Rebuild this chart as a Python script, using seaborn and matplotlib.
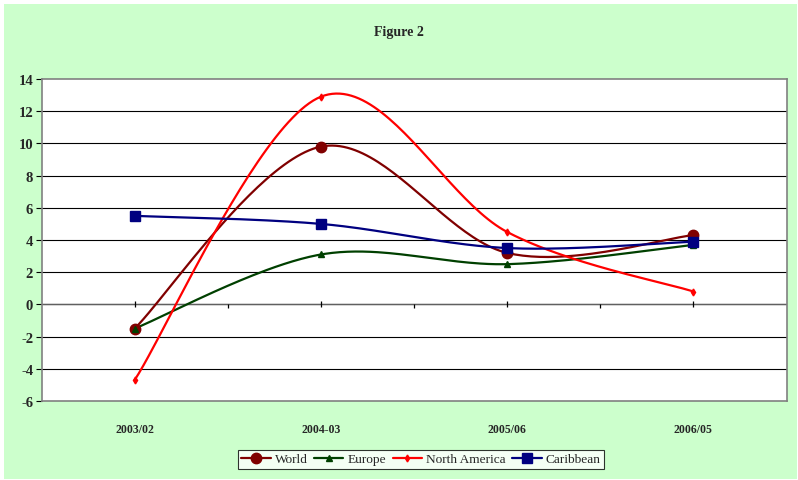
import numpy as np
import pandas as pd
import seaborn as sns
import matplotlib.pyplot as plt
from matplotlib.lines import Line2D
from matplotlib.patches import Rectangle

periods = ["2003/02", "2004-03", "2005/06", "2006/05"]
world = [-1.5, 9.8, 3.2, 4.3]
europe = [-1.5, 3.1, 2.5, 3.7]
north_america = [-4.7, 12.9, 4.5, 0.8]
caribbean = [5.5, 5.0, 3.5, 3.9]

series = {
    "World": world,
    "Europe": europe,
    "North America": north_america,
    "Caribbean": caribbean,
}
colors = {"World": "#800000", "Europe": "#004000",
          "North America": "#FF0000", "Caribbean": "#000080"}
markers = {"World": "o", "Europe": "^", "North America": "d", "Caribbean": "s"}
msizes = {"World": 7.5, "Europe": 4.5, "North America": 3.5, "Caribbean": 7.5}


def smooth(vals, n=50):
    # excel-style bezier smoothing through the points
    p = np.column_stack([np.arange(len(vals), dtype=float), np.asarray(vals, float)])
    xs, ys = [], []
    for i in range(len(p) - 1):
        p0 = p[i - 1] if i > 0 else p[i]
        p1, p2 = p[i], p[i + 1]
        p3 = p[i + 2] if i + 2 < len(p) else p[i + 1]
        c1 = p1 + (p2 - p0) / 6
        c2 = p2 - (p3 - p1) / 6
        t = np.linspace(0, 1, n)[:, None]
        b = (1 - t) ** 3 * p1 + 3 * (1 - t) ** 2 * t * c1 + 3 * (1 - t) * t ** 2 * c2 + t ** 3 * p2
        xs.extend(b[:, 0]); ys.extend(b[:, 1])
    return xs, ys


rows = []
for name, vals in series.items():
    sx, sy = smooth(vals)
    rows += [{"x": a, "y": b, "series": name} for a, b in zip(sx, sy)]
curves = pd.DataFrame(rows)
points = pd.DataFrame([{"x": i, "y": v, "series": name}
                       for name, vals in series.items() for i, v in enumerate(vals)])

sns.set_style("white")
plt.rcParams["font.family"] = ["Liberation Serif", "DejaVu Serif"]
plt.rcParams["axes.unicode_minus"] = False

fig = plt.figure(figsize=(7.98, 4.81), dpi=100, facecolor="white")
fig.patches.append(Rectangle((4 / 798, 1 / 481), 793 / 798, 475 / 481,
                             transform=fig.transFigure, facecolor="#CCFFCC",
                             edgecolor="none", zorder=-10))
ax = fig.add_axes([41.5 / 798, 1 - 402 / 481, 745 / 798, 322 / 481])
ax.set_facecolor("white")

for name in series:
    sns.lineplot(data=curves[curves.series == name], x="x", y="y", ax=ax,
                 color=colors[name], lw=1.6, sort=False, estimator=None, zorder=3)
    pts = points[points.series == name]
    ax.plot(pts.x, pts.y, ls="none", marker=markers[name], ms=msizes[name],
            color=colors[name], mec=colors[name], zorder=4)

ax.set_xlim(-0.5, 3.5)
ax.set_ylim(-6, 14)
ax.set_yticks(range(-6, 15, 2))
ax.set_xticks(range(len(periods)))
ax.set_xticklabels(periods)
for y in range(-4, 14, 2):
    ax.axhline(y, color="black", lw=0.8, zorder=1)
ax.axhline(0, color="#606060", lw=1.0, zorder=1.5)
# category axis ticks on the zero line
ax.plot(range(len(periods)), [0] * len(periods), ls="none", marker="|",
        ms=5, mew=0.9, color="black", zorder=2)
ax.plot(np.arange(len(periods) - 1) + 0.5, [0] * (len(periods) - 1), ls="none",
        marker=3, ms=3, mew=0.9, color="black", zorder=2)
for s in ax.spines.values():
    s.set_color("#808080")
    s.set_linewidth(1.2)
ax.tick_params(axis="y", length=4, width=0.8, color="black", direction="out",
               left=True, labelsize=10.5, pad=2)
ax.tick_params(axis="x", length=0, labelsize=8.5, pad=16)
for lab in ax.get_xticklabels() + ax.get_yticklabels():
    lab.set_fontweight("bold")
ax.set_xlabel("")
ax.set_ylabel("")

fig.text(0.5, 1 - 33 / 481, "Figure 2", ha="center", va="center",
         fontsize=10, fontweight="bold")

handles = [Line2D([], [], color=colors[n], lw=1.6, marker=markers[n],
                  ms=msizes[n], mec=colors[n]) for n in series]
leg = fig.legend(handles, list(series), loc="center", ncol=4,
                 bbox_to_anchor=(421 / 798, 1 - 460 / 481), frameon=True,
                 fancybox=False, edgecolor="black", facecolor="white",
                 fontsize=9.6, handlelength=2.2, handletextpad=0.3,
                 columnspacing=0.5, borderpad=0.25)
leg.get_frame().set_linewidth(0.8)

fig.savefig("out.png", dpi=100)
